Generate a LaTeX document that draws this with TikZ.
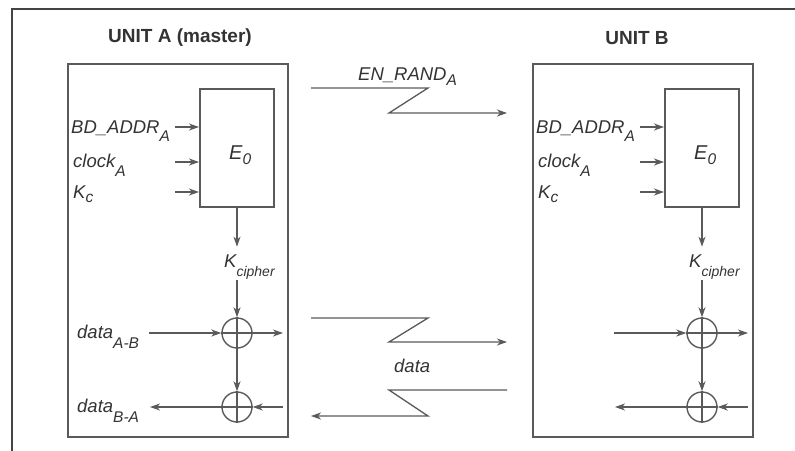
\documentclass[tikz,border=0pt]{standalone}
\usepackage{fontspec}
\setmainfont{Liberation Sans}
\usetikzlibrary{arrows.meta,calc}
\definecolor{lnc}{HTML}{5A5A5A}
\definecolor{frc}{HTML}{444444}
\definecolor{txc}{HTML}{333333}
\newcommand{\sbx}[2][8pt]{\raisebox{-#1}{\fontsize{15.5}{15.5}\selectfont #2}}
\tikzset{
  lbl/.style={font=\fontsize{18.5}{20}\selectfont\itshape, text=txc, inner sep=0pt, anchor=base west},
  ttl/.style={font=\fontsize{19}{21}\selectfont\bfseries, text=txc, inner sep=0pt},
  unitbox/.style={draw=lnc, line width=1.7pt, inner sep=0pt, anchor=north west},
  arr/.style={draw=lnc, line width=1.3pt, -{Stealth[length=10pt,width=7pt,inset=3pt]}},
  wire/.style={draw=lnc, line width=1.3pt},
  xor/.style={circle, draw=lnc, line width=1.4pt, minimum size=30pt, inner sep=0pt},
  frame/.style={draw=frc, line width=2.6pt}
}
\begin{document}
\begin{tikzpicture}[x=1pt,y=-1pt]
\useasboundingbox (0,0) rectangle (795,450);
% outer frame (open at right and bottom)
\coordinate (fbl) at (12,452);
\coordinate (ftl) at (12,9);
\coordinate (ftr) at (797,9);
\draw[frame] (fbl) -- (ftl) -- (ftr);
% titles
\node[ttl] (titA) at (180,38) {UNIT A (master)};
\node[ttl] (titB) at (637,38) {UNIT B};
% units
\foreach \u/\dx in {A/0,B/465}{
\begin{scope}[xshift=\dx pt]
  \node[unitbox, minimum width=220pt, minimum height=373pt] (unit\u) at (67,63) {};
  \node[unitbox, minimum width=74pt, minimum height=118pt] (E\u) at (199,88) {};
  \node[lbl, font=\fontsize{20}{22}\selectfont\itshape] (Elbl\u) at (229,159) {E\sbx[5pt]{0}};
  \node[lbl] (bd\u) at (71,133) {BD\_ADDR\sbx[8pt]{A}};
  \node[lbl] (ck\u) at (73,167) {clock\sbx[9pt]{A}};
  \node[lbl] (kc\u) at (73,198) {K\sbx[4pt]{c}};
  \coordinate (in1\u) at (175,127);
  \coordinate (in2\u) at (175,162);
  \coordinate (in3\u) at (175,192);
  \draw[arr] (in1\u) -- (in1\u -| E\u.west);
  \draw[arr] (in2\u) -- (in2\u -| E\u.west);
  \draw[arr] (in3\u) -- (in3\u -| E\u.west);
  \node[lbl] (kci\u) at (224,267) {K\raisebox{-9pt}{\fontsize{14}{14}\selectfont cipher}};
  \node[xor] (xa\u) at (237,333) {};
  \node[xor] (xb\u) at (237,407) {};
  \draw[wire] (xa\u.north) -- (xa\u.south) (xa\u.west) -- (xa\u.east);
  \draw[wire] (xb\u.north) -- (xb\u.south) (xb\u.west) -- (xb\u.east);
  \draw[arr] (E\u.south -| xa\u.north) -- ($(E\u.south -| xa\u.north)+(0,39)$);
  \draw[arr] ($(kci\u.south -| xa\u.north)+(0,1)$) -- (xa\u.north);
  \coordinate (r1in\u) at (149,333);
  \coordinate (r1out\u) at (283,333);
  \coordinate (r2out\u) at (150,407);
  \coordinate (r2in\u) at (283,407);
  \draw[arr] (r1in\u) -- (xa\u.west);
  \draw[arr] (xa\u.east) -- (r1out\u);
  \draw[arr] (xa\u.south) -- (xb\u.north);
  \draw[arr] (xb\u.west) -- (r2out\u);
  \draw[arr] (r2in\u) -- (xb\u.east);
\end{scope}}
% data labels of unit A
\node[lbl] (dAB) at (77,338) {data\sbx[10pt]{A-B}};
\node[lbl] (dBA) at (77,412) {data\sbx[10pt]{B-A}};
% radio links
\node[lbl] (enr) at (358,80) {EN\_RAND\sbx[5pt]{A}};
\coordinate (z1s) at (311,88);
\coordinate (z1a) at (428,88);
\coordinate (z1b) at (389,113);
\coordinate (z1e) at (507,113);
\draw[arr] (z1s) -- (z1a) -- (z1b) -- (z1e);
\coordinate (z2s) at (311,318);
\coordinate (z2a) at (428,318);
\coordinate (z2b) at (389,342);
\coordinate (z2e) at (507,342);
\draw[arr] (z2s) -- (z2a) -- (z2b) -- (z2e);
\node[lbl] (dmid) at (394,372) {data};
\coordinate (z3s) at (507,390);
\coordinate (z3a) at (389,390);
\coordinate (z3b) at (428,416);
\coordinate (z3e) at (311,416);
\draw[arr] (z3s) -- (z3a) -- (z3b) -- (z3e);
\end{tikzpicture}
\end{document}
